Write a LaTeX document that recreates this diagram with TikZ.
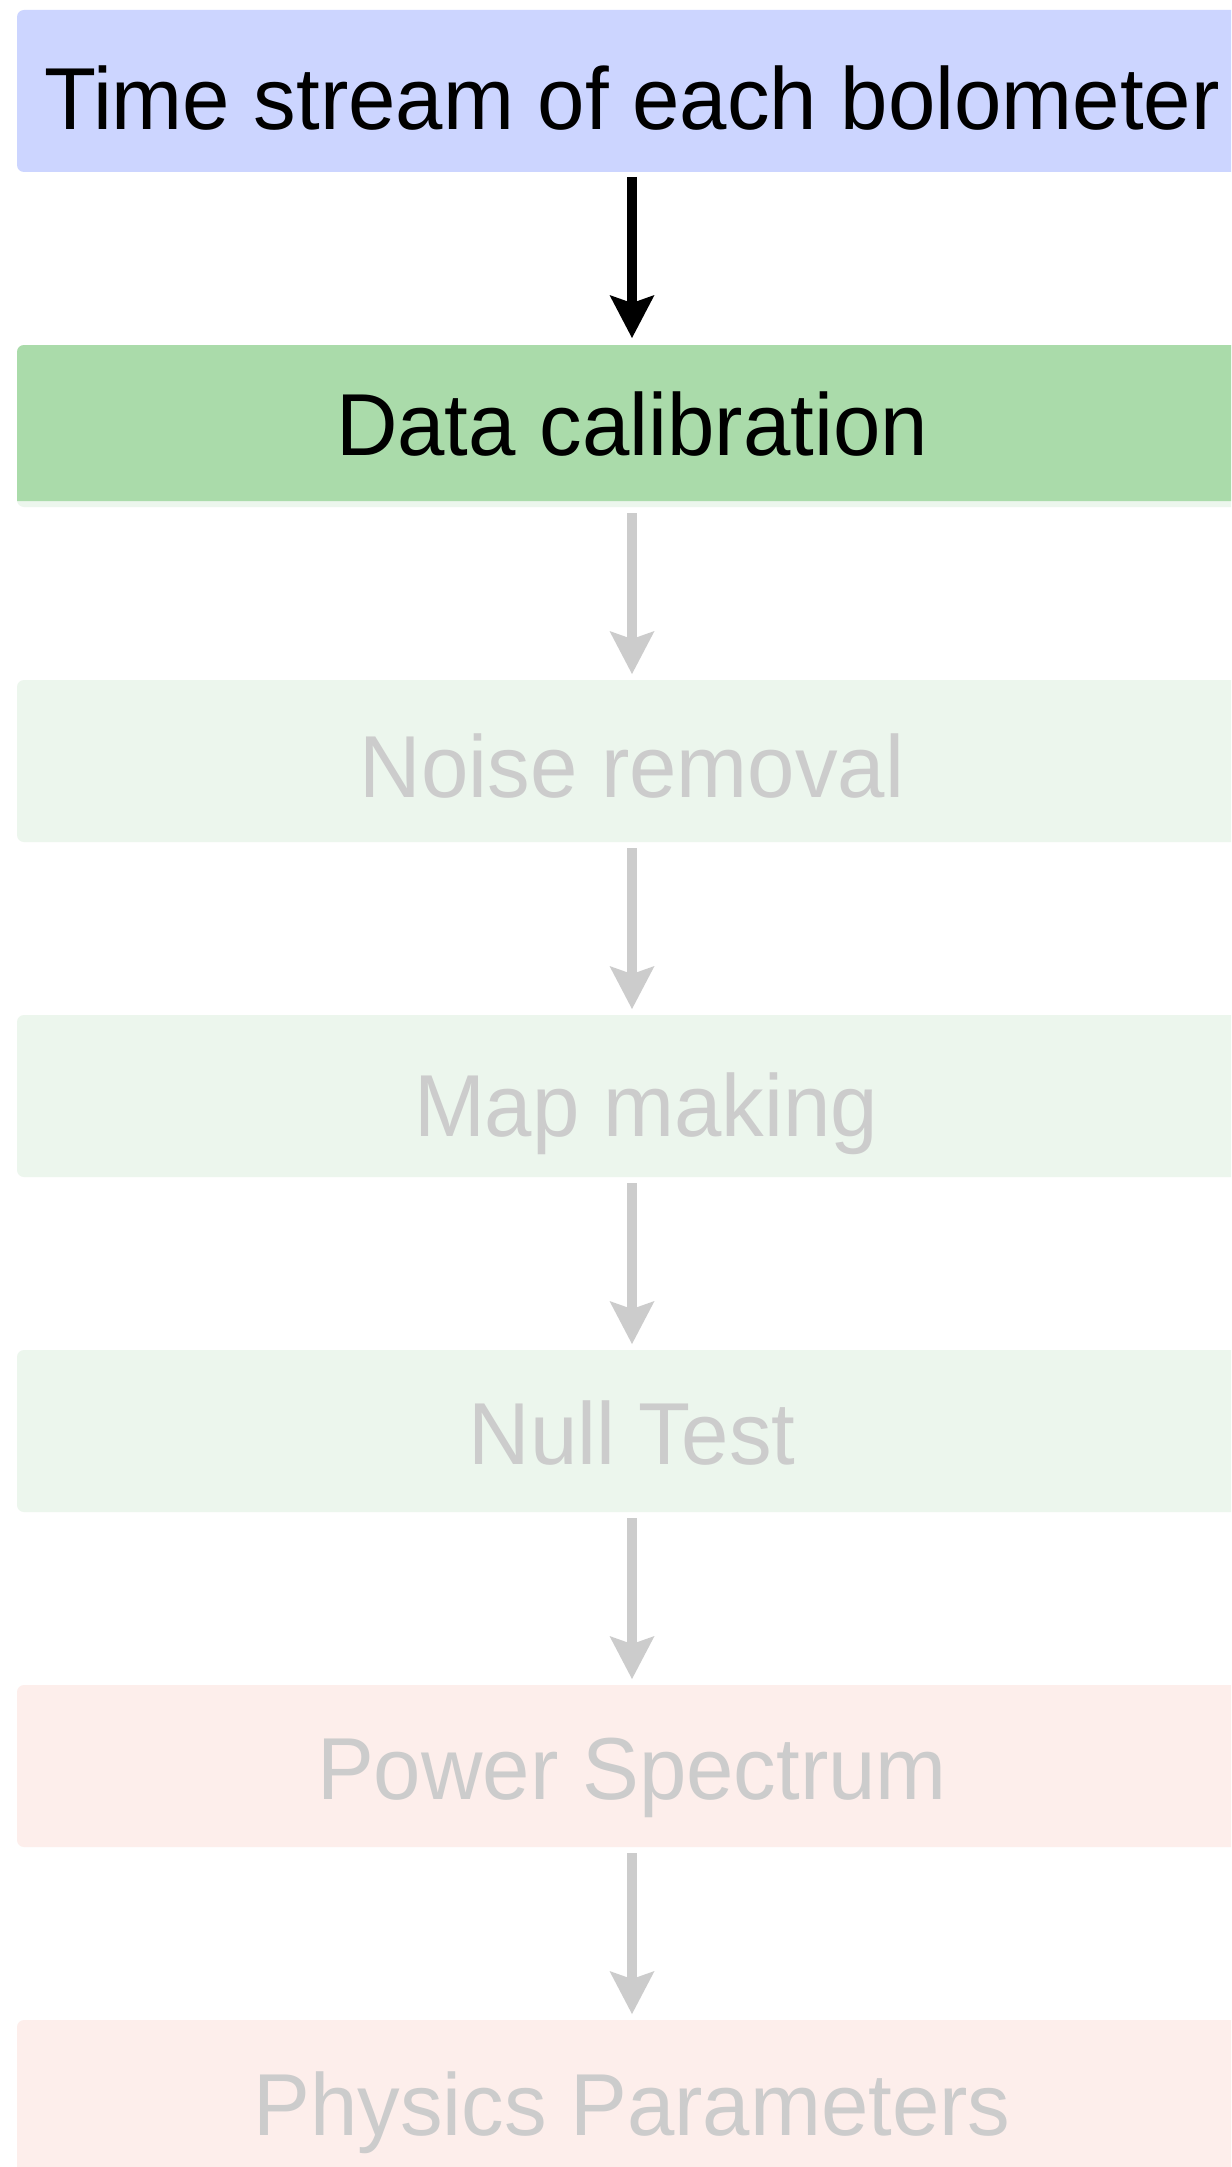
\documentclass[tikz,border=0pt]{standalone}
\usepackage{fontspec}
\setmainfont{Liberation Sans}[FakeStretch=0.968]
\usetikzlibrary{arrows.meta}
\definecolor{cBlue}{RGB}{204,213,255}
\definecolor{cDG}{RGB}{170,219,170}
\definecolor{cLG}{RGB}{236,246,237}
\definecolor{cPink}{RGB}{253,238,235}
\definecolor{cGray}{RGB}{204,204,204}
\tikzset{
  box/.style={rectangle, rounded corners=7pt, inner sep=0pt, outer sep=0pt,
    minimum width=1230pt, minimum height=162pt},
  txt/.style={anchor=base, inner sep=0pt, font=\fontsize{88pt}{100pt}\selectfont},
  arr/.style={line width=10pt, shorten <=6pt, shorten >=6pt,
    -{Stealth[length=43pt, width=45pt, inset=8pt, line width=0pt]}},
}
\begin{document}
\begin{tikzpicture}[x=1pt, y=-1pt]
\useasboundingbox (0,0) rectangle (1231,2167);
\clip (0,0) rectangle (1231,2167);
\fill[white] (0,0) rectangle (1231,2167);
% boxes
\node[box, fill=cBlue] (b1) at (632,91) {};
\node[box, fill=cLG] (b2) at (632,426) {};
\fill[cDG] (17,501) [rounded corners=7pt] -- (17,345) -- (1260,345) [sharp corners] -- (1260,501) -- cycle;
\node[box, fill=cLG] (b3) at (632,761) {};
\node[box, fill=cLG] (b4) at (632,1096) {};
\node[box, fill=cLG] (b5) at (632,1431) {};
\node[box, fill=cPink] (b6) at (632,1766) {};
\node[box, fill=cPink] (b7) at (632,2101) {};
% texts
\node[txt, text=black] (t1) at (632,130) {Time stream of each bolometer};
\node[txt, text=black] (t2) at (632,455) {Data calibration};
\node[txt, text=cGray] (t3) at (632,797) {Noise removal};
\node[txt, text=cGray] (t4) at (646,1136) {Map making};
\node[txt, text=cGray] (t5) at (632,1464) {Null Test};
\node[txt, text=cGray] (t6) at (632,1799) {Power Spectrum};
\node[txt, text=cGray] (t7) at (632,2135) {Physics Parameters};
% arrows
\draw[arr, black, shorten <=5pt, shorten >=7pt] (b1.south) -- (b2.north);
\draw[arr, cGray] (b2.south) -- (b3.north);
\draw[arr, cGray] (b3.south) -- (b4.north);
\draw[arr, cGray] (b4.south) -- (b5.north);
\draw[arr, cGray] (b5.south) -- (b6.north);
\draw[arr, cGray] (b6.south) -- (b7.north);
\end{tikzpicture}
\end{document}
